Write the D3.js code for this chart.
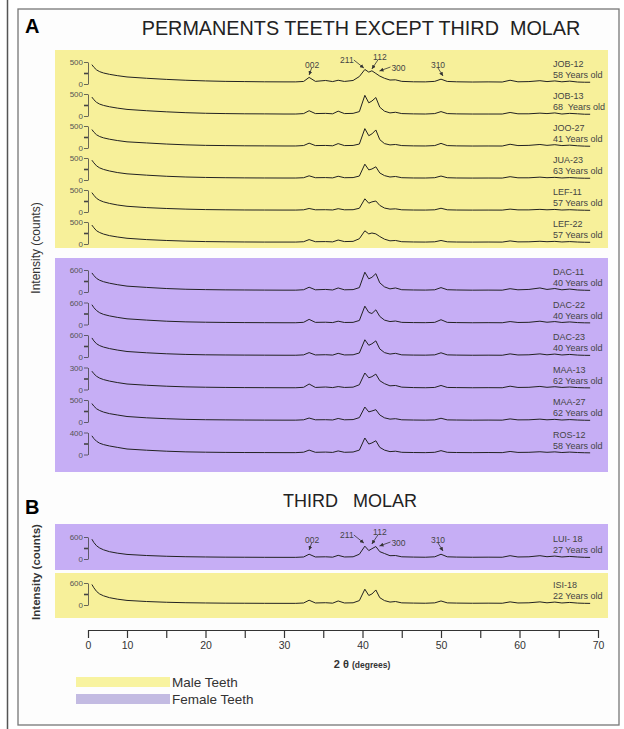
<!DOCTYPE html>
<html>
<head>
<meta charset="utf-8">
<script src="https://cdn.jsdelivr.net/npm/d3@7"></script>
<style>
  body { margin: 0; background: #fff; }
  svg text { font-family: "Liberation Sans", Arial, sans-serif; }
</style>
</head>
<body>
<svg id="chart" width="624" height="729"></svg>
<script>
// 2-theta sample positions shared by every diffractogram
const twoTheta = [1, 1.5, 2.2, 3, 4, 5.5, 7.5, 10, 12.5, 15, 17.5, 20, 22.5, 25, 27.5, 30,
  31.5, 32.5, 33.2, 34, 35.3, 36.2, 36.9, 37.7, 38.8, 39.6, 40.3, 40.8, 41.2, 41.7, 42.2, 42.8,
  43.5, 44.2, 45, 46.5, 48, 49.2, 50, 50.8, 52, 54, 56, 57.8, 58.8, 59.8, 61.2, 62.6,
  63.5, 64.5, 65.4, 66.4, 67.4, 68.3, 69];

// intensities (counts)
const job12 = [440,380,320,280,250,220,190,160,130,105,85,70,60,55,50,48,48,58,150,60,80,55,85,58,80,170,330,270,300,240,180,130,90,95,60,50,48,60,110,58,50,45,48,45,85,50,55,75,55,70,50,65,45,40,40];
const job13 = [430,370,310,270,240,210,180,150,120,95,75,62,55,50,48,45,45,55,120,55,60,50,110,55,60,100,470,300,340,420,200,110,70,85,55,48,45,55,100,55,48,45,45,45,80,50,50,65,55,70,45,60,50,40,40];
const joo27 = [420,360,300,260,230,200,170,140,115,90,72,60,55,50,48,46,46,56,110,55,58,50,100,55,58,90,440,280,320,410,190,100,70,80,55,48,46,55,105,55,48,45,46,45,85,55,60,80,60,75,55,65,50,42,40];
const jua23 = [450,390,320,275,240,205,170,140,110,85,68,58,52,48,46,45,45,52,95,52,55,48,85,52,55,90,360,230,250,300,160,100,68,80,52,46,45,52,90,52,46,44,45,44,75,50,50,65,52,60,46,55,45,40,40];
const lef11 = [440,380,310,265,230,195,160,130,100,80,65,55,50,46,45,44,44,50,80,50,52,46,75,50,52,85,300,200,230,250,150,90,65,72,50,45,44,50,85,50,45,43,44,43,65,48,48,60,50,58,45,52,44,40,38];
const lef22 = [430,370,300,260,225,190,160,130,100,80,65,55,50,46,44,44,44,52,100,52,55,48,90,55,60,120,300,230,250,230,170,110,72,80,52,46,44,50,80,50,45,43,45,43,70,48,50,62,52,60,46,55,45,40,38];
const dac11 = [520,450,370,320,280,240,200,160,125,95,75,65,58,55,52,50,50,62,130,60,70,55,110,60,65,120,540,360,400,500,250,140,85,110,62,55,52,60,120,62,55,50,52,50,90,60,70,110,70,95,60,80,55,48,45];
const dac22 = [540,460,380,320,275,235,195,155,120,90,72,62,56,52,50,48,48,60,140,58,62,52,90,55,58,110,500,330,300,400,220,120,80,95,58,52,50,58,130,58,52,48,50,48,80,55,60,90,62,80,55,70,52,46,44];
const dac23 = [520,440,360,310,270,230,190,150,115,88,70,60,55,52,50,48,48,58,120,56,62,52,100,56,60,110,470,320,360,440,220,120,80,100,58,52,50,58,115,58,52,48,50,48,85,55,60,85,60,80,55,70,52,46,44];
const maa13 = [250,215,180,155,135,115,95,75,58,45,36,31,28,26,25,24,24,30,75,28,34,26,40,28,32,65,225,160,175,210,120,80,50,55,32,26,24,28,55,28,26,24,25,24,45,28,30,42,30,38,28,34,26,23,22];
const maa27 = [420,360,300,260,225,190,160,125,95,75,60,52,48,45,43,42,42,50,90,50,52,46,80,50,55,100,340,230,250,280,160,95,65,75,50,45,42,48,85,48,45,42,44,42,70,48,50,65,50,60,45,55,45,40,38];
const ros12 = [340,290,240,205,180,155,130,100,78,60,48,42,38,36,35,34,34,42,80,40,44,38,65,40,45,80,300,190,210,250,130,80,52,60,40,36,34,40,70,40,36,34,36,34,55,38,40,50,40,48,36,44,36,32,30];
const lui18 = [540,450,360,300,250,200,160,125,95,75,62,55,50,48,46,45,45,55,130,55,60,50,100,55,60,130,350,230,280,340,200,150,90,95,60,52,48,60,130,60,52,48,50,48,90,55,60,90,62,80,55,70,55,46,44];
const isi18 = [560,470,370,300,250,200,160,125,95,75,62,55,50,48,46,45,45,55,130,55,62,50,110,55,60,120,430,260,300,410,200,120,80,95,58,52,48,58,110,58,52,48,50,48,85,55,60,85,60,80,55,70,52,46,44];

const sampleNames = ["JOB-12","JOB-13","JOO-27","JUA-23","LEF-11","LEF-22","DAC-11","DAC-22","DAC-23","MAA-13","MAA-27","ROS-12","LUI- 18","ISI-18"];
const sampleAges = ["58 Years old","68  Years old","41 Years old","63 Years old","57 Years old","57 Years old","40 Years old","40 Years old","40 Years old","62 Years old","62 Years old","58 Years old","27 Years old","22 Years old"];
const sampleSex = ["M","M","M","M","M","M","F","F","F","F","F","F","F","M"];
const sampleTickMax = [500,500,500,500,500,500,600,600,600,300,500,400,600,600];
const sampleCounts = [job12, job13, joo27, jua23, lef11, lef22, dac11, dac22, dac23, maa13, maa27, ros12, lui18, isi18];

const peakNames = ["002","211","112","300","310"];
const peakTheta = [33.2, 40.3, 41.7, 42.8, 50];
const annotatedRows = [0, 12];

const xTicks = [0,10,15,20,25,30,35,40,45,50,55,60,65,70];

// layout
const rowTop = [62,94,126,158,190,222,270,302.5,335,367.5,400,432.5,537,583];
const rowH = 22;
const panels = [
  { y: 50, h: 198, sex: "M" },
  { y: 258, h: 214, sex: "F" },
  { y: 524, h: 46, sex: "F" },
  { y: 573, h: 45, sex: "M" }
];
const fills = { M: "#f7f09a", F: "#c6aef5" };
const legendFills = { M: "#f8f3a0", F: "#c3bbe2" };
// label / arrow offsets per peak: [textDx, textDy, x1, y1, x2, y2] relative to (x(theta), top)
const peakOffsets = [
  [3, 3, 2.5, 6, 0, 13],
  [-18, -2, -11, -2, -1, 6],
  [4, -5, 2, -2, -4, 7],
  [14, 6, 6, 5, -5, 9],
  [-3, 3, -3, 6, 2, 14]
];

const svg = d3.select("#chart");
const x = d3.scaleLinear().domain([0, 10, 70]).range([88, 127, 598]);

// page edge + frame
svg.append("line").attr("x1", 7.5).attr("x2", 7.5).attr("y1", 0).attr("y2", 729)
  .attr("stroke", "#555").attr("stroke-width", 1.5);
svg.append("rect").attr("x", 18).attr("y", 9).attr("width", 601).attr("height", 716)
  .attr("fill", "#fdfdfd").attr("stroke", "#777").attr("stroke-width", 1.3);

svg.selectAll(".panel").data(panels).enter().append("rect")
  .attr("class", "panel")
  .attr("x", 55).attr("width", 553)
  .attr("y", d => d.y).attr("height", d => d.h)
  .attr("fill", d => fills[d.sex]);

// titles
svg.append("text").attr("x", 25).attr("y", 33).attr("font-size", 20).attr("font-weight", "bold").text("A");
svg.append("text").attr("x", 25).attr("y", 514).attr("font-size", 20).attr("font-weight", "bold").text("B");
svg.append("text").attr("x", 361).attr("y", 35).attr("text-anchor", "middle")
  .attr("font-size", 19.8).attr("fill", "#222").text("PERMANENTS TEETH EXCEPT THIRD\u00a0 MOLAR");
svg.append("text").attr("x", 350).attr("y", 507).attr("text-anchor", "middle")
  .attr("font-size", 18).attr("fill", "#222").text("THIRD\u00a0\u00a0 MOLAR");

svg.append("text").attr("transform", "translate(40,248) rotate(-90)")
  .attr("text-anchor", "middle").attr("font-size", 12).attr("fill", "#333")
  .text("Intensity (counts)");
svg.append("text").attr("transform", "translate(40,572) rotate(-90)")
  .attr("text-anchor", "middle").attr("font-size", 11.5).attr("font-weight", "bold").attr("fill", "#333")
  .text("Intensity (counts)");

// arrow marker
svg.append("defs").append("marker").attr("id", "ah")
  .attr("viewBox", "0 0 6 6").attr("refX", 6).attr("refY", 3)
  .attr("markerWidth", 4).attr("markerHeight", 4).attr("markerUnits", "userSpaceOnUse")
  .attr("orient", "auto")
  .append("path").attr("d", "M0,0L6,3L0,6z").attr("fill", "#333");

const line = d3.line().x((d, i) => x(twoTheta[i]));

sampleCounts.forEach((vals, r) => {
  const top = rowTop[r];
  const y = d3.scaleLinear().domain([0, sampleTickMax[r]]).range([top + rowH, top]);
  const max = sampleTickMax[r];

  const ax = svg.append("g").attr("transform", `translate(88,0)`)
    .call(d3.axisLeft(y).tickValues([0, max / 2, max]).tickSize(4).tickSizeOuter(0).tickPadding(1)
      .tickFormat(d => d === max / 2 ? "" : d));
  ax.selectAll("path,line").attr("stroke", "#444").attr("stroke-width", 0.8);
  ax.selectAll("text").attr("font-size", 8).attr("fill", "#555")
    .attr("font-family", "Liberation Sans, Arial, sans-serif");
  ax.selectAll(".tick").filter(d => d === max / 2).select("line").attr("stroke-width", 1.6);

  svg.append("path").datum(vals)
    .attr("d", line.y(d => y(d)))
    .attr("fill", "none").attr("stroke", "#222").attr("stroke-width", 1);

  svg.append("text").attr("x", 553).attr("y", top + 5).attr("font-size", 9).attr("fill", "#444")
    .text(sampleNames[r]);
  svg.append("text").attr("x", 553).attr("y", top + 16).attr("font-size", 9).attr("fill", "#444")
    .style("white-space", "pre")
    .text(sampleAges[r]);

  if (annotatedRows.includes(r)) {
    peakNames.forEach((p, k) => {
      const px = x(peakTheta[k]);
      const o = peakOffsets[k];
      svg.append("text").attr("x", px + o[0]).attr("y", top + o[1] + 3)
        .attr("text-anchor", "middle").attr("font-size", 8.5).attr("fill", "#444").text(p);
      svg.append("line")
        .attr("x1", px + o[2]).attr("y1", top + o[3])
        .attr("x2", px + o[4]).attr("y2", top + o[5])
        .attr("stroke", "#333").attr("stroke-width", 0.8).attr("marker-end", "url(#ah)");
    });
  }
});

// x axis
const xAxis = svg.append("g").attr("transform", "translate(0,630)")
  .call(d3.axisBottom(x).tickValues(xTicks).tickSize(8).tickSizeOuter(0).tickPadding(4)
    .tickFormat(d => d % 10 === 0 ? d : ""));
xAxis.selectAll("path,line").attr("stroke", "#333").attr("stroke-width", 1.2);
xAxis.selectAll("text").attr("font-size", 10.5).attr("fill", "#333")
  .attr("font-family", "Liberation Sans, Arial, sans-serif");

const xl = svg.append("text").attr("x", 362).attr("y", 668).attr("text-anchor", "middle")
  .attr("font-weight", "bold").attr("fill", "#333");
xl.append("tspan").attr("font-size", 11).text("2 \u03b8 ");
xl.append("tspan").attr("font-size", 8.5).text("(degrees)");

// legend
const legendKeys = ["M", "F"];
const legendText = ["Male Teeth", "Female Teeth"];
legendKeys.forEach((k, i) => {
  svg.append("rect").attr("x", 76).attr("y", 677 + i * 17).attr("width", 94).attr("height", 10)
    .attr("fill", legendFills[k]);
  svg.append("text").attr("x", 172).attr("y", 687 + i * 17).attr("font-size", 13.5).attr("fill", "#333")
    .text(legendText[i]);
});
</script>
</body>
</html>
